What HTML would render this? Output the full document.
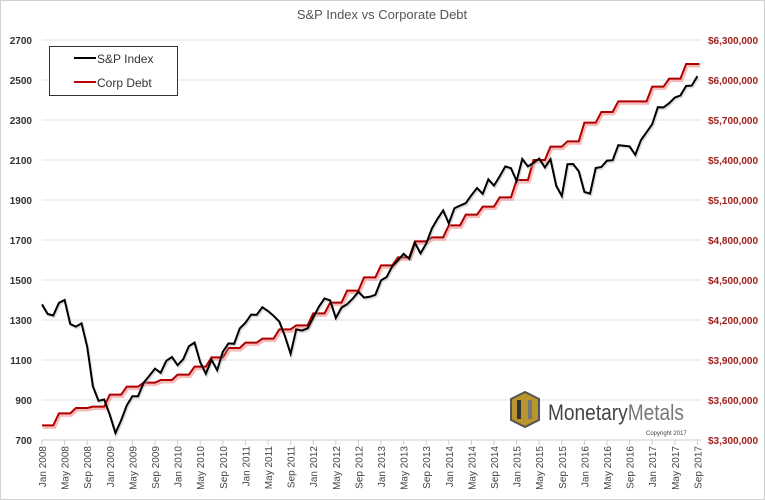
<!DOCTYPE html>
<html><head><meta charset="utf-8"><style>
body{margin:0;background:#fff;}
svg{display:block;font-family:"Liberation Sans",sans-serif;}
</style></head><body>
<svg id="chart" width="765" height="500">
<rect x="0.5" y="0.5" width="764" height="499" fill="#fff" stroke="#d0d0d0"/>
<text x="382" y="19" text-anchor="middle" font-size="13" fill="#555">S&amp;P Index vs Corporate Debt</text>
<g id="grid"></g>
<g id="yl"></g>
<g id="yr"></g>
<g id="xa"></g>
<g>
<polygon points="511,399 525,392 539,399 539,420 525,427 511,420" fill="#b8962e" stroke="#555" stroke-width="2"/>
<rect x="517" y="400" width="4" height="19" fill="#333"/><rect x="528" y="400" width="4" height="19" fill="#777"/>
<text x="548" y="420" font-size="22" textLength="136" lengthAdjust="spacingAndGlyphs" fill="#444">Monetary<tspan fill="#777">Metals</tspan></text>
<text x="646" y="435" font-size="6" fill="#444">Copyright 2017</text>
</g>
<g id="series"></g>
<g>
<rect x="49.5" y="46.5" width="128" height="49" fill="#fff" stroke="#333"/>
<line x1="74" y1="58" x2="96" y2="58" stroke="#000" stroke-width="2"/>
<text x="97" y="63" font-size="12" fill="#333">S&amp;P Index</text>
<line x1="74" y1="82" x2="96" y2="82" stroke="#c00000" stroke-width="2"/>
<text x="97" y="87" font-size="12" fill="#333">Corp Debt</text>
</g>
</svg>
<script>
const spValues=[1378,1330,1323,1386,1400,1280,1267,1283,1166,969,896,903,
826,735,798,873,919,919,987,1021,1057,1036,1096,1115,
1074,1104,1169,1187,1089,1031,1102,1049,1141,1183,1181,1258,
1286,1327,1326,1364,1345,1321,1292,1219,1131,1253,1247,1258,
1312,1366,1408,1398,1310,1362,1379,1407,1441,1412,1416,1426,
1498,1515,1569,1598,1631,1606,1686,1633,1682,1757,1806,1848,
1783,1859,1872,1884,1924,1960,1931,2003,1972,2018,2068,2059,
1995,2105,2068,2086,2107,2063,2104,1972,1920,2079,2080,2044,
1940,1932,2060,2065,2097,2099,2174,2171,2168,2126,2199,2239,
2279,2364,2363,2384,2412,2423,2470,2472,2519];
const debtQuarterly=[3.41,3.50,3.54,3.55, 3.64,3.70,3.73,3.75, 3.79,3.85,3.92,3.99,
4.03,4.06,4.13,4.16, 4.25,4.33,4.42,4.52, 4.61,4.67,4.79,4.82,
4.91,4.99,5.05,5.12, 5.25,5.40,5.50,5.54, 5.68,5.76,5.84,5.84, 5.95,6.01,6.12];
const leftTicks=[700,900,1100,1300,1500,1700,1900,2100,2300,2500,2700];
const rightTicks=[3.3,3.6,3.9,4.2,4.5,4.8,5.1,5.4,5.7,6.0,6.3];
const monthNames=["Jan","May","Sep"];
const x0=42,dx=5.65,yTop=40,yBot=440;
const xs=i=>x0+i*dx;
const yL=v=>yBot-(v-700)/2000*(yBot-yTop);
const yR=v=>yBot-(v-3.3)/3.0*(yBot-yTop);
const NS="http://www.w3.org/2000/svg";
function mk(t,a,p){const e=document.createElementNS(NS,t);for(const k in a)e.setAttribute(k,a[k]);p.appendChild(e);return e;}
const grid=document.getElementById('grid'),yl=document.getElementById('yl'),yr=document.getElementById('yr'),xa=document.getElementById('xa'),ser=document.getElementById('series');
const lastIdx=spValues.length-1;
leftTicks.forEach(v=>{
  const y=yL(v);
  mk('line',{x1:x0,x2:xs(lastIdx)+4,y1:y,y2:y,stroke:'#e0e0e0'},grid);
  const t=mk('text',{x:32,y:y+4,'text-anchor':'end','font-size':'10','font-weight':'bold',fill:'#333'},yl);
  
  
  t.textContent=v;
});
rightTicks.forEach(v=>{
  const t=mk('text',{x:708,y:yR(v)+4,'font-size':'10','font-weight':'bold',fill:'#a02020'},yr);
  
  
  t.textContent='$'+Math.round(v*1e6).toLocaleString('en-US');
});
mk('line',{x1:x0,x2:xs(lastIdx)+4,y1:yBot,y2:yBot,stroke:'#ccc'},xa);
for(let i=0;i<spValues.length;i+=4){
  const x=xs(i);
  mk('line',{x1:x,x2:x,y1:yBot,y2:yBot+5,stroke:'#ccc'},xa);
  const yr_=2008+Math.floor(i/12);
  const t=mk('text',{x:0,y:0,'text-anchor':'end','font-size':'10',fill:'#444',transform:`translate(${x+4},${yBot+6}) rotate(-90)`},xa);
  
  
  t.textContent=monthNames[(i%12)/4]+' '+yr_;
}
// corp debt: quarterly values held for 3 months, slanted transition in between
const pts=[];
debtQuarterly.forEach((v,q)=>{
  const a=q*3, b=Math.min(q*3+2,lastIdx);
  pts.push([xs(a),yR(v)]);
  pts.push([q===debtQuarterly.length-1?xs(lastIdx)+2:xs(b),yR(v)]);
});
const d='M'+pts.map(p=>p[0]+','+p[1]).join(' L');
const glow=mk('path',{d:d,fill:'none',stroke:'#f09090','stroke-width':'4','stroke-opacity':'0.6',transform:'translate(1,1.5)'},ser);


const debt=mk('path',{d:d,fill:'none',stroke:'#b00000','stroke-width':'2'},ser);


const spd='M'+spValues.map((v,i)=>xs(i)+','+yL(v)).join(' L');
mk('path',{d:spd,fill:'none',stroke:'#aaa','stroke-width':'2.5','stroke-opacity':'0.4',transform:'translate(1,1.5)'},ser);
const sp=mk('path',{d:spd,fill:'none',stroke:'#000','stroke-width':'2'},ser);


</script>
</body></html>
